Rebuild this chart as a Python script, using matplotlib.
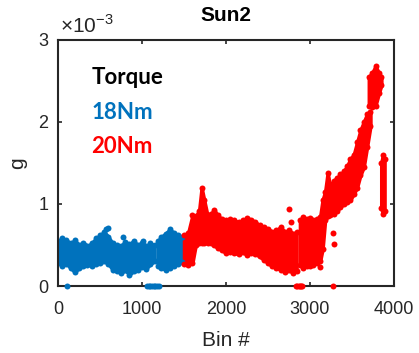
import numpy as np
import matplotlib.pyplot as plt

plt.rcParams['font.family'] = ['Liberation Sans', 'DejaVu Sans']
plt.rcParams['mathtext.fontset'] = 'custom'
plt.rcParams['mathtext.rm'] = 'Liberation Sans'

# values, g in units of 1e-3
# every block: bin number, lower and upper edge of the point cloud
blue_a_bin = [0, 50, 100, 150, 200, 250, 300, 350, 400, 450, 500, 550, 600,
              650, 700, 750, 800, 850, 900, 950, 1000, 1050, 1100, 1150]
blue_a_lo = [0.28, 0.25, 0.27, 0.22, 0.17, 0.22, 0.24, 0.26, 0.25, 0.27, 0.28,
             0.30, 0.27, 0.20, 0.18, 0.16, 0.19, 0.14, 0.18, 0.20, 0.23, 0.21,
             0.27, 0.30]
blue_a_hi = [0.55, 0.58, 0.56, 0.52, 0.56, 0.50, 0.53, 0.49, 0.52, 0.58, 0.62,
             0.66, 0.60, 0.52, 0.50, 0.49, 0.54, 0.51, 0.55, 0.50, 0.53, 0.49,
             0.52, 0.50]

blue_b_bin = [1190, 1230, 1280, 1330, 1380, 1430, 1480]
blue_b_lo = [0.24, 0.22, 0.20, 0.22, 0.25, 0.27, 0.29]
blue_b_hi = [0.55, 0.60, 0.64, 0.69, 0.65, 0.62, 0.60]

blue_out_bin = [575, 600, 775, 1010, 110, 1060, 1080, 1100, 1120, 1140, 1160,
                1180, 1200]
blue_out_g = [0.69, 0.71, 0.60, 0.55, 0, 0, 0, 0, 0, 0, 0, 0, 0]

red_a_bin = [1500, 1550, 1600, 1640, 1680, 1710, 1740, 1780, 1820, 1860, 1900,
             1950, 2000, 2050, 2100, 2150, 2200, 2250, 2300, 2350, 2400, 2450,
             2500, 2550, 2600, 2650, 2700, 2750, 2800, 2840]
red_a_lo = [0.27, 0.26, 0.28, 0.50, 0.52, 0.52, 0.52, 0.53, 0.52, 0.50, 0.46,
            0.44, 0.40, 0.42, 0.40, 0.39, 0.41, 0.38, 0.40, 0.39, 0.36, 0.32,
            0.28, 0.24, 0.22, 0.20, 0.17, 0.19, 0.16, 0.18]
red_a_hi = [0.62, 0.65, 0.86, 0.85, 0.92, 1.20, 1.05, 0.86, 0.88, 0.93, 0.86,
            0.82, 0.80, 0.82, 0.80, 0.78, 0.80, 0.83, 0.81, 0.78, 0.74, 0.72,
            0.70, 0.66, 0.68, 0.72, 0.66, 0.68, 0.64, 0.66]

red_b_bin = [2880, 2920, 2960, 3000, 3040, 3080, 3120, 3150, 3180, 3210, 3240,
             3280, 3320, 3360, 3400, 3440, 3480, 3520, 3560, 3600, 3640, 3680,
             3720]
red_b_lo = [0.26, 0.22, 0.25, 0.24, 0.26, 0.28, 0.30, 0.45, 0.80, 0.85, 0.86,
            0.88, 0.92, 0.96, 1.00, 1.02, 1.05, 1.12, 1.20, 1.35, 1.45, 1.70,
            1.95]
red_b_hi = [0.80, 0.84, 0.82, 0.83, 0.80, 0.82, 0.84, 1.05, 1.15, 1.38, 1.22,
            1.28, 1.32, 1.36, 1.40, 1.46, 1.55, 1.60, 1.75, 1.90, 2.00, 2.10,
            2.12]

red_c_bin = [3700, 3740, 3780, 3820, 3850]
red_c_lo = [2.20, 2.18, 2.20, 2.35, 2.45]
red_c_hi = [2.55, 2.60, 2.68, 2.60, 2.55]

red_d_bin = [3848, 3868, 3888]
red_d_lo = [0.95, 0.88, 0.92]
red_d_hi = [1.50, 1.60, 1.55]

red_out_bin = [2750, 2774, 2950, 3120, 3274, 3286, 2835, 2850, 2865, 2880,
               2895, 2905, 3274]
red_out_g = [0.94, 0.78, 0.27, 0.23, 0.65, 0.51, 0, 0, 0, 0, 0, 0, 0]

blue = '#0072BD'
red = '#FF0000'
dark = '#262626'
ms = 4.3


def cloud(ax, b, lo, hi, c):
    ax.fill_between(b, lo, hi, facecolor=c, edgecolor=c, lw=2.5,
                    joinstyle='round')
    ax.plot(b, lo, 'o', color=c, ms=ms, mec='none')
    ax.plot(b, hi, 'o', color=c, ms=ms, mec='none')


fig = plt.figure(figsize=(4.19, 3.53), dpi=100)
ax = fig.add_axes([0.1384, 0.1898, 0.8019, 0.6969])

cloud(ax, blue_a_bin, blue_a_lo, blue_a_hi, blue)
cloud(ax, blue_b_bin, blue_b_lo, blue_b_hi, blue)
ax.plot(blue_out_bin, blue_out_g, 'o', color=blue, ms=ms, mec='none',
        clip_on=False, zorder=5)

cloud(ax, red_a_bin, red_a_lo, red_a_hi, red)
cloud(ax, red_b_bin, red_b_lo, red_b_hi, red)
cloud(ax, red_c_bin, red_c_lo, red_c_hi, red)
cloud(ax, red_d_bin, red_d_lo, red_d_hi, red)
ax.plot(red_out_bin, red_out_g, 'o', color=red, ms=ms, mec='none',
        clip_on=False, zorder=5)

ax.set_xlim(0, 4000)
ax.set_ylim(0, 3)
ax.set_xticks([0, 1000, 2000, 3000, 4000])
ax.set_yticks([0, 1, 2, 3])
ax.tick_params(direction='in', length=3, width=1.2, colors=dark,
               labelsize=13, top=True, right=True)
ax.tick_params(axis='x', pad=11)
ax.tick_params(axis='y', pad=7)
for s in ax.spines.values():
    s.set_linewidth(1.5)
    s.set_color(dark)

ax.set_xlabel('Bin #', fontsize=15, color=dark, labelpad=9)
ax.set_ylabel('g', fontsize=15, color=dark, labelpad=8)
ax.set_title('Sun2', fontsize=15, fontweight='bold', pad=14)
ax.text(0.005, 1.03, r'$\times10^{-3}$', transform=ax.transAxes,
        fontsize=15, color=dark, va='baseline', ha='left')

leg_font = ['Lato', 'DejaVu Sans']
ax.text(0.10, 0.846, 'Torque', transform=ax.transAxes, fontsize=16,
        fontweight='bold', color='black', va='center', family=leg_font)
ax.text(0.10, 0.707, '18Nm', transform=ax.transAxes, fontsize=16,
        fontweight='bold', color=blue, va='center', family=leg_font)
ax.text(0.10, 0.569, '20Nm', transform=ax.transAxes, fontsize=16,
        fontweight='bold', color=red, va='center', family=leg_font)

fig.savefig('out.png', dpi=100)
